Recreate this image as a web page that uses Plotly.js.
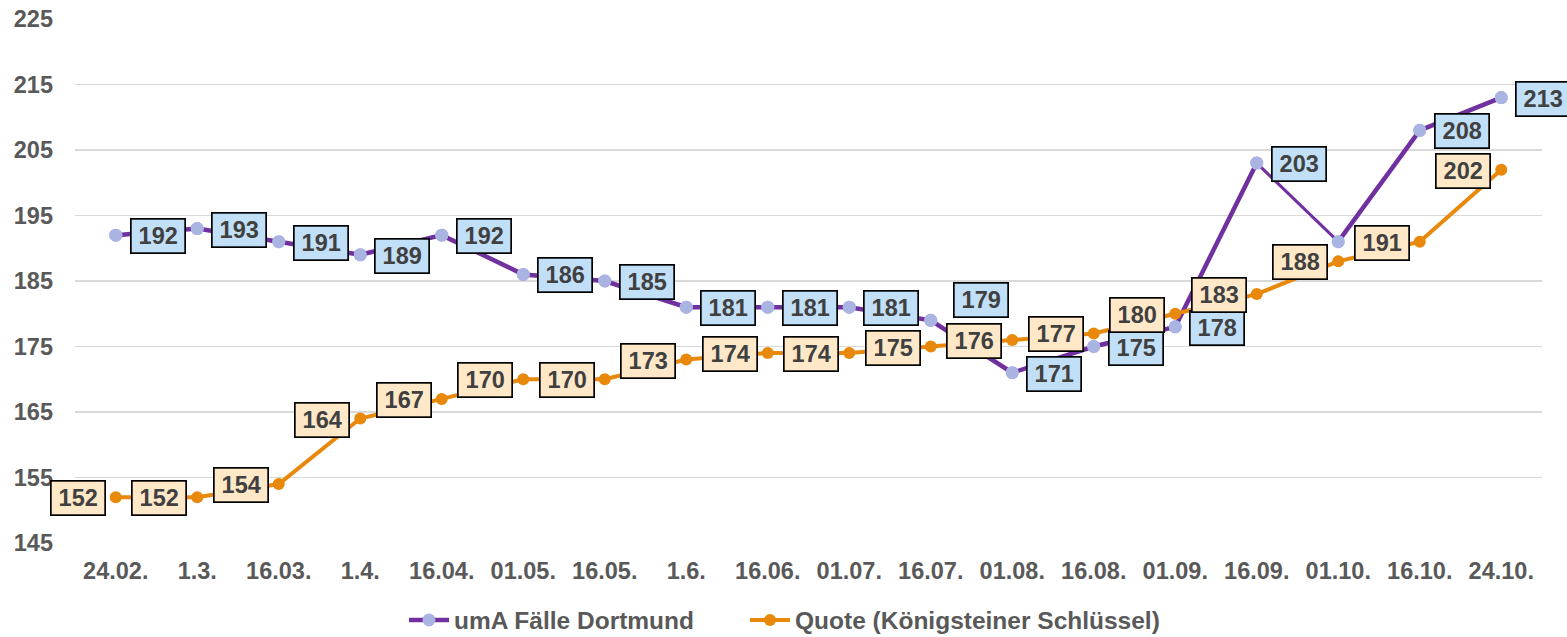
<!DOCTYPE html>
<html>
<head>
<meta charset="utf-8">
<script src="https://cdn.plot.ly/plotly-3.0.1.min.js"></script>
<style>html,body{margin:0;padding:0;background:#fff;}#chart{width:1567px;height:637px;}</style>
</head>
<body>
<div id="chart"></div>
<script>
// ---- data ----
const categories = ["24.02.", "1.3.", "16.03.", "1.4.", "16.04.", "01.05.", "16.05.", "1.6.", "16.06.", "01.07.", "16.07.", "01.08.", "16.08.", "01.09.", "16.09.", "01.10.", "16.10.", "24.10."];
const umaFaelle = [192, 193, 191, 189, 192, 186, 185, 181, 181, 181, 179, 171, 175, 178, 203, 191, 208, 213];
const quote = [152, 152, 154, 164, 167, 170, 170, 173, 174, 174, 175, 176, 177, 180, 183, 188, 191, 202];
const seriesNames = ["umA Fälle Dortmund", "Quote (Königsteiner Schlüssel)"];
const yTicks = [145, 155, 165, 175, 185, 195, 205, 215, 225];

// ---- label placement (pixel offsets, style only) ----
const umaLabelShiftX = categories.map(() => 42);
const umaLabelShiftY = categories.map(() => -1);
umaLabelShiftX[10] = 50; umaLabelShiftY[10] = 20;   // 16.07.
const umaLabelShown = categories.map((c, i) => i !== 15);
const quoteLabelShiftX = categories.map(() => -38);
const quoteLabelShiftY = categories.map(() => -1);
const thinSegStart = 14; // segment drawn with a thinner stroke in the original (16.09. -> 01.10.)

const PURPLE = "#7030A0", LAV = "#A9B4E2", ORANGE = "#E8890C";
const BLUEBOX = "#C2DFF8", PEACHBOX = "#FFE8C8";
const TXT = "#404040", AX = "#595959";
const FONT = "Liberation Sans, Arial, sans-serif";

const segX = categories.slice(thinSegStart, thinSegStart + 2);
const segY = umaFaelle.slice(thinSegStart, thinSegStart + 2);
const traces = [
  {x: categories, y: umaFaelle, name: seriesNames[0], type: "scatter", mode: "lines+markers",
   line: {color: PURPLE, width: 4.5}, marker: {color: LAV, size: 13}, cliponaxis: false, legend: "legend"},
  {x: segX, y: segY, type: "scatter", mode: "lines", line: {color: "#FFFFFF", width: 5.5},
   showlegend: false, cliponaxis: false},
  {x: segX, y: segY, type: "scatter", mode: "lines", line: {color: PURPLE, width: 3},
   showlegend: false, cliponaxis: false},
  {x: categories, y: umaFaelle, type: "scatter", mode: "markers", marker: {color: LAV, size: 13},
   showlegend: false, cliponaxis: false},
  {x: categories, y: quote, name: seriesNames[1], type: "scatter", mode: "lines+markers",
   line: {color: ORANGE, width: 4}, marker: {color: ORANGE, size: 12}, cliponaxis: false, legend: "legend2"}
];

function box(x, y, text, fill, sx, sy) {
  return {x: x, y: y, xref: "x", yref: "y", text: String(text), showarrow: false,
    xshift: sx, yshift: sy, bgcolor: fill, bordercolor: "#000", borderwidth: 1.7, borderpad: 1,
    width: 51, height: 31, align: "center", valign: "middle",
    font: {family: FONT, size: 23.5, color: TXT, weight: 700}};
}
const annotations = [];
categories.forEach((c, i) => {
  if (umaLabelShown[i]) annotations.push(box(c, umaFaelle[i], umaFaelle[i], BLUEBOX, umaLabelShiftX[i], umaLabelShiftY[i]));
});
categories.forEach((c, i) => {
  annotations.push(box(c, quote[i], quote[i], PEACHBOX, quoteLabelShiftX[i], quoteLabelShiftY[i]));
});

const legFont = {family: FONT, size: 24.5, color: AX, weight: 700};
const layout = {
  width: 1567, height: 637,
  margin: {l: 75, r: 25, t: 19, b: 94},
  paper_bgcolor: "#fff", plot_bgcolor: "#fff",
  showlegend: true,
  legend: {orientation: "h", xref: "container", yref: "container", x: 404 / 1567, xanchor: "left",
    y: 1 - 620 / 637, yanchor: "middle", font: legFont, itemwidth: 40, bgcolor: "rgba(0,0,0,0)"},
  legend2: {orientation: "h", xref: "container", yref: "container", x: 745 / 1567, xanchor: "left",
    y: 1 - 620 / 637, yanchor: "middle", font: legFont, itemwidth: 40, bgcolor: "rgba(0,0,0,0)"},
  xaxis: {type: "category", range: [-0.5, categories.length - 0.5], showgrid: false, zeroline: false,
    showline: false, ticks: "", ticklabelstandoff: 11,
    tickfont: {family: FONT, size: 23.5, color: AX, weight: 700}},
  yaxis: {range: [145, 225], tickvals: yTicks, ticktext: yTicks.map(String), showgrid: true,
    gridcolor: "#D9D9D9", gridwidth: 1.3, zeroline: false, showline: false, ticks: "",
    ticklabelstandoff: 21,
    tickfont: {family: FONT, size: 23.5, color: AX, weight: 700}},
  annotations: annotations
};

Plotly.newPlot("chart", traces, layout, {displayModeBar: false, staticPlot: true});
</script>
</body>
</html>
